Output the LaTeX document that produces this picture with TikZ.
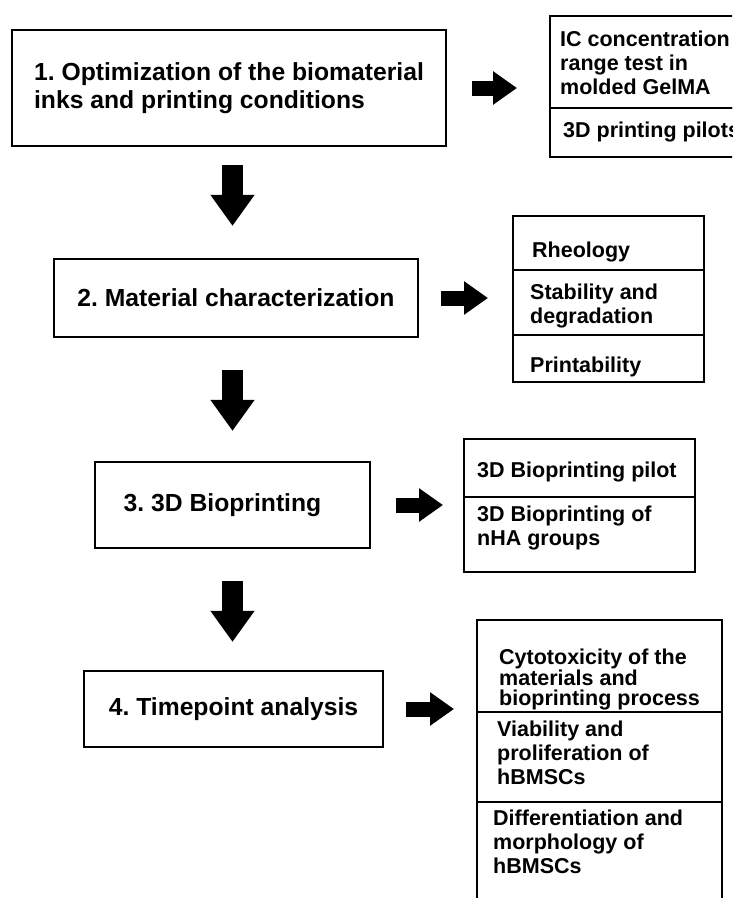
\documentclass[tikz,border=0pt]{standalone}
\usepackage{fontspec}
\setmainfont{Liberation Sans}
\usetikzlibrary{arrows.meta,positioning}

\begin{document}
\frenchspacing
\begin{tikzpicture}[
    x=1pt, y=-1pt,
    stage/.style={draw, line width=2.2pt, inner sep=0pt,
        font=\bfseries\fontsize{24.7}{28}\selectfont},
    cell/.style={draw, line width=2pt, outer sep=0pt, minimum width=#1},
    celltext/.style={anchor=north west, inner sep=0pt, align=left,
        font=\bfseries\fontsize{21.5}{24}\selectfont},
    rightarrow/.style={line width=15pt, -{Triangle[width=32pt,length=24pt]}},
    downarrow/.style={line width=21pt, -{Triangle[width=42pt,length=31pt]}},
]

    \useasboundingbox (0,0) rectangle (732,898);
    \clip (0,0) rectangle (732,898);

    % main steps
    \node
        [ stage,
            align=left,
            minimum width=434pt,
            minimum height=116pt,
        ] (b1) at (229,88) {1. Optimization of the biomaterial\\inks and printing conditions};

    \node
        [ stage,
            minimum width=364pt,
            minimum height=78pt,
        ] (b2) at (236,298) {2. Material characterization};

    \node
        [ stage,
            minimum width=275pt,
            minimum height=86pt,
        ] (b3) at (232.5,505) {3. 3D Bioprinting\hspace*{20pt}};

    \node
        [ stage,
            minimum width=299pt,
            minimum height=76pt,
        ] (b4) at (233.5,709) {4. Timepoint analysis};

    % detail boxes
    \node [cell=200pt, minimum height=92pt, anchor=north west] (rb1a) at (550,16) {};
    \node [cell=200pt, minimum height=49pt, below=0pt of rb1a] (rb1b) {};

    \node [cell=191pt, minimum height=54pt, anchor=north west] (rb2a) at (513,216) {};
    \node [cell=191pt, minimum height=65pt, below=0pt of rb2a] (rb2b) {};
    \node [cell=191pt, minimum height=47pt, below=0pt of rb2b] (rb2c) {};

    \node [cell=231pt, minimum height=58pt, anchor=north west] (rb3a) at (464,439) {};
    \node [cell=231pt, minimum height=75pt, below=0pt of rb3a] (rb3b) {};

    \node [cell=245pt, minimum height=92pt, anchor=north west] (rb4a) at (477,620) {};
    \node [cell=245pt, minimum height=90pt, below=0pt of rb4a] (rb4b) {};
    \node [cell=245pt, minimum height=120pt, below=0pt of rb4b] (rb4c) {};

    \node [celltext] (t1a) at ([shift={(10,15)}]rb1a.north west) {IC concentration\\range test in\\molded GelMA};
    \node [celltext] (t1b) at ([shift={(13,14)}]rb1b.north west) {3D printing pilots};

    \node [celltext] (t2a) at ([shift={(19,26)}]rb2a.north west) {Rheology};
    \node [celltext] (t2b) at ([shift={(17,14)}]rb2b.north west) {Stability and\\degradation};
    \node [celltext] (t2c) at ([shift={(17,22)}]rb2c.north west) {Printability};

    \node [celltext] (t3a) at ([shift={(13,23)}]rb3a.north west) {3D Bioprinting pilot};
    \node [celltext] (t3b) at ([shift={(13,9)}]rb3b.north west) {3D Bioprinting of\\nHA groups};

    \node [celltext, font=\bfseries\fontsize{21.5}{20.5}\selectfont] (t4a) at ([shift={(22,29)}]rb4a.north west) {Cytotoxicity of the\\materials and\\bioprinting process};
    \node [celltext] (t4b) at ([shift={(20,9)}]rb4b.north west) {Viability and\\proliferation of\\hBMSCs};
    \node [celltext] (t4c) at ([shift={(16,8)}]rb4c.north west) {Differentiation and\\morphology of\\hBMSCs};

    % arrows
    \draw [rightarrow, shorten <=25pt, shorten >=33pt] (b1.east) -- (b1.east -| rb1a.west);
    \draw [rightarrow, shorten <=22pt, shorten >=25pt] (b2.east) -- (b2.east -| rb2a.west);
    \draw [rightarrow, shorten <=25pt, shorten >=21pt] (b3.east) -- (b3.east -| rb3a.west);
    \draw [rightarrow, shorten <=22pt, shorten >=23pt] (b4.east) -- (b4.east -| rb4a.west);

    \draw [downarrow, shorten <=18pt, shorten >=32pt] (b1.south -| b3) -- (b2.north -| b3);
    \draw [downarrow, shorten <=32pt, shorten >=30pt] (b2.south -| b3) -- (b3.north);
    \draw [downarrow, shorten <=32pt, shorten >=28pt] (b3.south) -- (b4.north -| b3);

\end{tikzpicture}
\end{document}
